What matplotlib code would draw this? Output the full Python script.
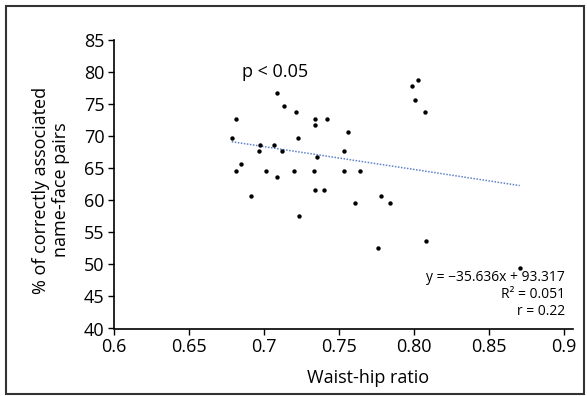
import matplotlib
matplotlib.use('Agg')
import matplotlib.pyplot as plt
from matplotlib.patches import Rectangle

# values
waist_hip = [0.6785, 0.6815, 0.7085, 0.7135, 0.7211, 0.7340, 0.7340, 0.7418,
             0.7560, 0.7229, 0.6975, 0.6965, 0.7065, 0.7122, 0.7353, 0.7533,
             0.6811, 0.6845, 0.7013, 0.7089, 0.7198, 0.7333, 0.7533, 0.6915,
             0.7338, 0.7402, 0.7231, 0.8029, 0.7985, 0.8005, 0.8071, 0.7640,
             0.7609, 0.7782, 0.7840, 0.7762, 0.8082, 0.8705]
pct_correct = [69.7, 72.7, 76.8, 74.7, 73.7, 72.7, 71.7, 72.7,
               70.7, 69.7, 68.7, 67.7, 68.7, 67.7, 66.7, 67.7,
               64.6, 65.6, 64.6, 63.6, 64.6, 64.6, 64.6, 60.6,
               61.6, 61.6, 57.6, 78.7, 77.8, 75.7, 73.7, 64.6,
               59.6, 60.6, 59.6, 52.6, 53.6, 49.5]

slope, intercept = -35.636, 93.317
r_squared = 0.051
r_value = 0.22

x_ticks = [0.6, 0.65, 0.7, 0.75, 0.80, 0.85, 0.9]
x_tick_labels = ['0.6', '0.65', '0.7', '0.75', '0.80', '0.85', '0.9']
y_ticks = [40, 45, 50, 55, 60, 65, 70, 75, 80, 85]

plt.rcParams['font.family'] = ['Open Sans', 'DejaVu Sans']

fig = plt.figure(figsize=(5.87, 3.96), dpi=100)
ax = fig.add_axes([114 / 587, 1 - 328.5 / 396, (573 - 114) / 587, (328.5 - 40) / 396])

ax.scatter(waist_hip, pct_correct, s=10, color='black', zorder=3, linewidths=0)

x0, x1 = min(waist_hip), max(waist_hip)
ax.plot([x0, x1], [slope * x0 + intercept, slope * x1 + intercept],
        color='#5f82c8', linestyle=(0, (1, 1)), linewidth=1.1, zorder=2)

ax.set_xlim(0.6, 0.906)
ax.set_ylim(40, 85)
ax.set_xticks(x_ticks)
ax.set_xticklabels(x_tick_labels)
ax.set_yticks(y_ticks)
ax.tick_params(labelsize=13, length=4.3, width=1, direction='out', pad=2.5)

for side in ['top', 'right']:
    ax.spines[side].set_visible(False)
for side in ['left', 'bottom']:
    ax.spines[side].set_linewidth(1.2)

ax.set_xlabel('Waist-hip ratio', fontsize=13)
ax.xaxis.set_label_coords(0.553, -0.14)
ax.set_ylabel('% of correctly associated\nname-face pairs', fontsize=13,
              linespacing=1.15, va='center')
ax.yaxis.set_label_coords(-0.137, 0.48)

ax.text(0.6852, 80.0, 'p < 0.05', fontsize=13, ha='left', va='center')

eq_lines = [
    f'y = \u2212{abs(slope):.3f}x + {intercept:.3f}',
    f'R\u00b2 = {r_squared:.3f}',
    f'r = {r_value:.2f}',
]
for i, line in enumerate(eq_lines):
    ax.text(0.9007, 48.0 - i * 2.7, line, fontsize=10, ha='right', va='center')

# frame round the whole picture
fig.add_artist(Rectangle((6 / 587, 2 / 396), 578 / 587, 388 / 396,
                         transform=fig.transFigure, fill=False,
                         edgecolor='#333333', linewidth=1.5))

fig.savefig('out.png', dpi=100)
